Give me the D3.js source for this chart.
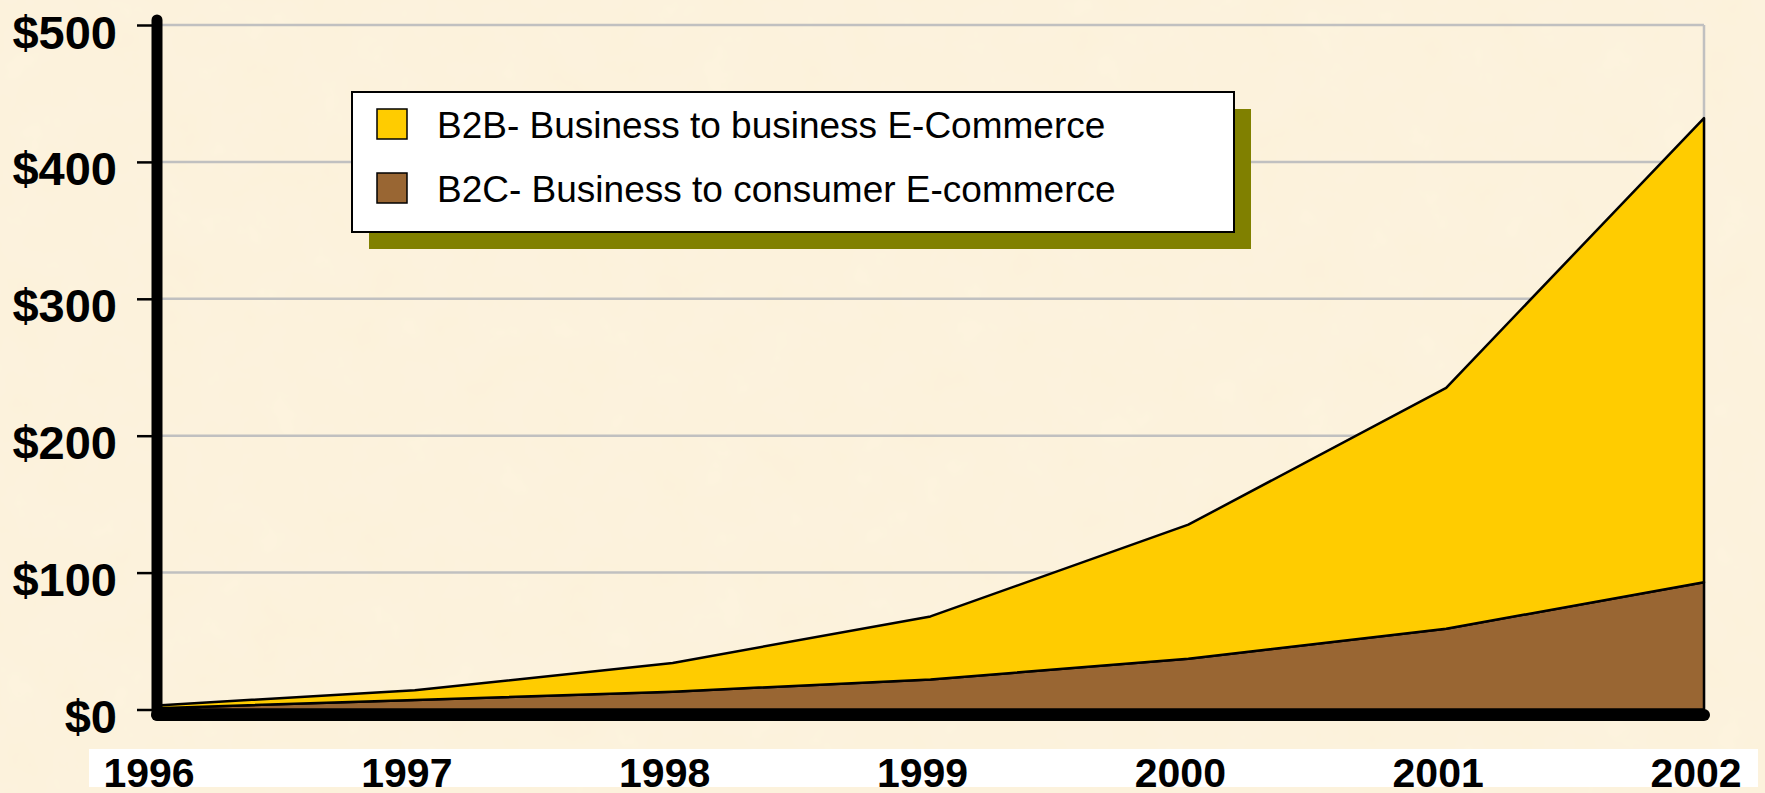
<!DOCTYPE html>
<html>
<head>
<meta charset="utf-8">
<script src="https://cdn.jsdelivr.net/npm/d3@7"></script>
<style>
  html, body { margin: 0; padding: 0; background: #fbefd6; overflow: hidden; }
  svg { display: block; }
  .ylab { font-family: "Liberation Sans", Arial, sans-serif; font-weight: bold; font-size: 47px; fill: #000; }
  .xlab { font-family: "Liberation Sans", Arial, sans-serif; font-weight: bold; font-size: 41px; fill: #000; }
  .legend-text { font-family: "Liberation Sans", Arial, sans-serif; font-size: 37px; fill: #000; }
</style>
</head>
<body>
<div id="chart"></div>
<script>
// data
const years = [1996, 1997, 1998, 1999, 2000, 2001, 2002];
const b2c = [1, 7, 13, 22, 37, 59, 93];
const b2b = [2, 7, 21, 46, 98, 176, 339];
const yTicks = [0, 100, 200, 300, 400, 500];
const seriesNames = ['B2B- Business to business E-Commerce', 'B2C- Business to consumer E-commerce'];
const seriesColors = { b2b: '#ffcc00', b2c: '#996633' };

const W = 1765, H = 793;

const svg = d3.select('#chart').append('svg')
  .attr('width', W)
  .attr('height', H);

// parchment-like background texture
const defs = svg.append('defs');
const filt = defs.append('filter').attr('id', 'paper').attr('x', 0).attr('y', 0).attr('width', '100%').attr('height', '100%');
filt.append('feTurbulence')
  .attr('type', 'fractalNoise')
  .attr('baseFrequency', 0.02)
  .attr('numOctaves', 4)
  .attr('seed', 3)
  .attr('result', 'noise');
filt.append('feColorMatrix')
  .attr('in', 'noise')
  .attr('type', 'matrix')
  .attr('values', '0 0 0 0 0.99  0 0 0 0 0.93  0 0 0 0 0.80  0 0 0 0.35 0');
svg.append('rect').attr('width', W).attr('height', H).attr('fill', '#fcf1da');
svg.append('rect').attr('width', W).attr('height', H).attr('filter', 'url(#paper)');

// scales
const x = d3.scaleLinear().domain([1996, 2002]).range([157, 1704]);
const y = d3.scaleLinear().domain([0, 500]).range([709.5, 25]);

// gridlines
svg.append('g').selectAll('line')
  .data(yTicks.filter(d => d > 0))
  .join('line')
  .attr('x1', x(1996)).attr('x2', x(2002))
  .attr('y1', d => y(d)).attr('y2', d => y(d))
  .attr('stroke', '#c0c0c0')
  .attr('stroke-width', 2.5);

svg.append('line')
  .attr('x1', x(2002)).attr('x2', x(2002))
  .attr('y1', y(500)).attr('y2', y(0))
  .attr('stroke', '#c0c0c0')
  .attr('stroke-width', 2.5);

// stacked areas
const table = years.map((yr, i) => ({ year: yr, b2c: b2c[i], b2b: b2b[i] }));
const stack = d3.stack().keys(['b2c', 'b2b']);
const layers = stack(table);

const area = d3.area()
  .x(d => x(d.data.year))
  .y0(d => y(d[0]))
  .y1(d => y(d[1]));

svg.append('g').selectAll('path')
  .data(layers)
  .join('path')
  .attr('d', area)
  .attr('fill', d => seriesColors[d.key])
  .attr('stroke', '#000')
  .attr('stroke-width', 2.5)
  .attr('stroke-linejoin', 'round');

// axis lines (thick)
svg.append('line')
  .attr('x1', x(1996)).attr('x2', x(1996))
  .attr('y1', 20).attr('y2', 715)
  .attr('stroke', '#000').attr('stroke-width', 11)
  .attr('stroke-linecap', 'round');

svg.append('line')
  .attr('x1', x(1996)).attr('x2', x(2002))
  .attr('y1', 715).attr('y2', 715)
  .attr('stroke', '#000').attr('stroke-width', 12)
  .attr('stroke-linecap', 'round');

// y axis ticks + labels
const yAxis = d3.axisLeft(y)
  .tickValues(yTicks)
  .tickSize(20)
  .tickPadding(20)
  .tickFormat(d => '$' + d);

const yAxisG = svg.append('g')
  .attr('transform', `translate(${x(1996)},0)`)
  .call(yAxis);
yAxisG.select('.domain').remove();
yAxisG.selectAll('.tick line').attr('stroke', '#000').attr('stroke-width', 2.5);
yAxisG.selectAll('.tick text')
  .attr('class', 'ylab')
  .attr('font-family', null).attr('font-size', null)
  .attr('dy', '0.32em')
  .attr('transform', 'translate(0,8)');

// x labels on white strip
svg.append('rect')
  .attr('x', 89).attr('y', 749)
  .attr('width', 1758 - 89).attr('height', 38)
  .attr('fill', '#ffffff');

svg.append('g').selectAll('text')
  .data(years)
  .join('text')
  .attr('class', 'xlab')
  .attr('x', d => x(d) - 8)
  .attr('y', 787)
  .attr('text-anchor', 'middle')
  .text(d => d);

// legend
const legend = svg.append('g');
legend.append('rect')
  .attr('x', 369).attr('y', 109)
  .attr('width', 882).attr('height', 140)
  .attr('fill', '#808000');
legend.append('rect')
  .attr('x', 352).attr('y', 92)
  .attr('width', 882).attr('height', 140)
  .attr('fill', '#ffffff')
  .attr('stroke', '#000')
  .attr('stroke-width', 2);

const legendItems = [
  { name: seriesNames[0], color: seriesColors.b2b },
  { name: seriesNames[1], color: seriesColors.b2c }
];

const items = legend.selectAll('g.item')
  .data(legendItems)
  .join('g')
  .attr('class', 'item')
  .attr('transform', (d, i) => `translate(0,${i * 64})`);

items.append('rect')
  .attr('x', 377).attr('y', 109)
  .attr('width', 30).attr('height', 30)
  .attr('fill', d => d.color)
  .attr('stroke', '#000')
  .attr('stroke-width', 1.5);

items.append('text')
  .attr('class', 'legend-text')
  .attr('x', 437).attr('y', 138)
  .text(d => d.name);
</script>
</body>
</html>
